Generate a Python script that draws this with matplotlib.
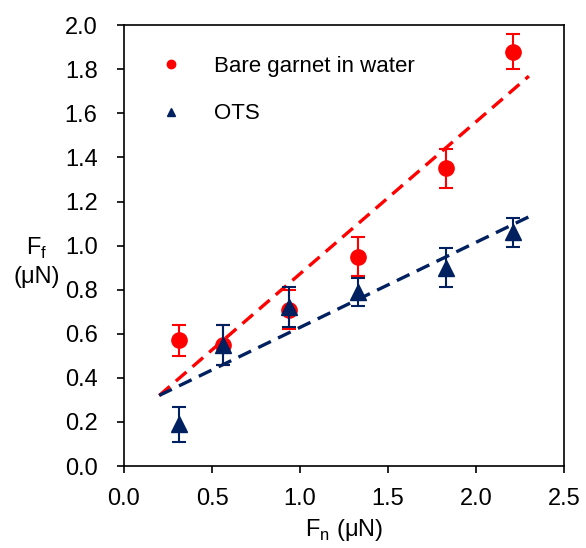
import numpy as np
import matplotlib
matplotlib.use('Agg')
from matplotlib import pyplot as plt

plt.rcParams['font.family'] = ['Liberation Sans', 'DejaVu Sans']
plt.rcParams['mathtext.fontset'] = 'custom'
plt.rcParams['mathtext.rm'] = 'Liberation Sans'

# normal force (uN)
fn = [0.31, 0.56, 0.94, 1.33, 1.83, 2.21]
# friction, bare garnet in water
ff_bare = [0.57, 0.55, 0.71, 0.95, 1.35, 1.88]
err_bare = [0.07, 0.09, 0.09, 0.09, 0.09, 0.08]
# friction, OTS
ff_ots = [0.19, 0.55, 0.72, 0.79, 0.90, 1.06]
err_ots = [0.08, 0.09, 0.09, 0.065, 0.09, 0.065]
# linear fits (slope, intercept) and range
fit_bare = [0.69, 0.182]
fit_ots = [0.386, 0.243]
fit_x = [0.2, 2.3]

red = '#FF0000'
navy = '#002060'

fig = plt.figure(figsize=(5.86, 5.48), dpi=100)
ax = fig.add_axes([0.2116, 0.1496, 0.751, 0.8044])

xf = np.array(fit_x)
ax.plot(xf, fit_bare[0] * xf + fit_bare[1], color=red, lw=2.4, dashes=(4.2, 2.4), zorder=1)
ax.plot(xf, fit_ots[0] * xf + fit_ots[1], color=navy, lw=2.4, dashes=(4.2, 2.4), zorder=1)

ax.errorbar(fn, ff_bare, yerr=err_bare, fmt='o', color=red, ms=11, capsize=5,
            elinewidth=1.5, capthick=1.5, label='Bare garnet in water', zorder=2)
ax.errorbar(fn, ff_ots, yerr=err_ots, fmt='^', color=navy, ms=11, capsize=5,
            elinewidth=1.5, capthick=1.5, label='OTS', zorder=3)

ax.set_xlim(0, 2.5)
ax.set_ylim(0, 2.0)
ax.set_xticks(np.arange(0, 2.51, 0.5))
ax.set_yticks(np.arange(0, 2.01, 0.2))
ax.xaxis.set_major_formatter(matplotlib.ticker.FormatStrFormatter('%.1f'))
ax.yaxis.set_major_formatter(matplotlib.ticker.FormatStrFormatter('%.1f'))
ax.tick_params(direction='out', length=5, width=1.2, labelsize=17)
ax.tick_params(axis='y', pad=14)
ax.tick_params(axis='x', pad=11)
for s in ax.spines.values():
    s.set_linewidth(1.2)

ax.set_xlabel(r'F$_\mathrm{n}$ (μN)', fontsize=17, labelpad=5)
ax.text(-0.198, 0.463, 'F$_\\mathrm{f}$\n(μN)', transform=ax.transAxes, fontsize=17,
        ha='center', va='center', linespacing=1.3)

handles, labels = ax.get_legend_handles_labels()
handles = [h[0] for h in handles]
ax.legend(handles, labels, loc='upper left', frameon=False, fontsize=16,
          markerscale=0.55, handlelength=1.0, handletextpad=1.45, labelspacing=1.18,
          bbox_to_anchor=(0.035, 0.975))

fig.savefig('out.png', dpi=100)
